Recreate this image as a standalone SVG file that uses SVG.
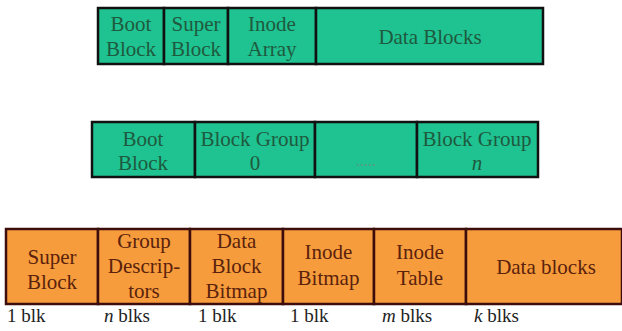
<svg xmlns="http://www.w3.org/2000/svg" width="622" height="331" viewBox="0 0 622 331">
<style>
.g{fill:#1fc291;stroke:#111;stroke-width:2.5}
.o{fill:#f79c3c;stroke:#3d0d0d;stroke-width:2.5}
.t{font-family:'Liberation Serif','Times New Roman',Times,Tinos,'Nimbus Roman','Nimbus Roman No9 L',FreeSerif,'Noto Serif','DejaVu Serif',serif;font-size:21px;text-anchor:middle}
.gt{fill:#1e5a3e}
.ot{fill:#5a220c}
.lb{fill:#222;font-size:19px;text-anchor:start}
.it{font-style:italic}
</style>
<rect width="622" height="331" fill="#fff"/>
<g class="t">
<g id="row1">
<g id="r1-boot"><rect class="g" x="98" y="8" width="66" height="56"/><text class="gt" x="131" y="31">Boot</text><text class="gt" x="131" y="56">Block</text></g>
<g id="r1-super"><rect class="g" x="164" y="8" width="64" height="56"/><text class="gt" x="196" y="31">Super</text><text class="gt" x="196" y="56">Block</text></g>
<g id="r1-inode"><rect class="g" x="228" y="8" width="88" height="56"/><text class="gt" x="272" y="31">Inode</text><text class="gt" x="272" y="56">Array</text></g>
<g id="r1-data"><rect class="g" x="316" y="8" width="227" height="56"/><text class="gt" x="430" y="44">Data Blocks</text></g>
</g>
<g id="row2">
<g id="r2-boot"><rect class="g" x="92" y="122" width="103" height="55"/><text class="gt" x="143" y="146">Boot</text><text class="gt" x="143" y="170">Block</text></g>
<g id="r2-bg0"><rect class="g" x="195" y="122" width="120" height="55"/><text class="gt" x="255" y="146">Block Group</text><text class="gt" x="255" y="170">0</text></g>
<g id="r2-dots"><rect class="g" x="315" y="122" width="102" height="55"/><text x="366" y="166" fill="#5c9c80" font-size="16">.....</text></g>
<g id="r2-bgn"><rect class="g" x="417" y="122" width="121" height="55"/><text class="gt" x="477" y="146">Block Group</text><text class="gt it" x="477" y="170">n</text></g>
</g>
<g id="row3">
<g id="r3-super"><rect class="o" x="6" y="229" width="92" height="75"/><text class="ot" x="52" y="264">Super</text><text class="ot" x="52" y="289">Block</text></g>
<g id="r3-gd"><rect class="o" x="98" y="229" width="92" height="75"/><text class="ot" x="144" y="248">Group</text><text class="ot" x="144" y="273">Descrip-</text><text class="ot" x="144" y="298">tors</text></g>
<g id="r3-dbb"><rect class="o" x="190" y="229" width="93" height="75"/><text class="ot" x="236.5" y="248">Data</text><text class="ot" x="236.5" y="273">Block</text><text class="ot" x="236.5" y="298">Bitmap</text></g>
<g id="r3-ib"><rect class="o" x="283" y="229" width="91" height="75"/><text class="ot" x="328.5" y="259">Inode</text><text class="ot" x="328.5" y="285">Bitmap</text></g>
<g id="r3-it"><rect class="o" x="374" y="229" width="92" height="75"/><text class="ot" x="420" y="259">Inode</text><text class="ot" x="420" y="285">Table</text></g>
<g id="r3-data"><rect class="o" x="466" y="229" width="156" height="75"/><text class="ot" x="546" y="274">Data blocks</text></g>
</g>
<g id="sizes">
<text class="lb" x="7" y="322">1 blk</text>
<text class="lb" x="104" y="322"><tspan class="it">n</tspan> blks</text>
<text class="lb" x="198" y="322">1 blk</text>
<text class="lb" x="290" y="322">1 blk</text>
<text class="lb" x="382" y="322"><tspan class="it">m</tspan> blks</text>
<text class="lb" x="474" y="322"><tspan class="it">k</tspan> blks</text>
</g>
</g>
</svg>
